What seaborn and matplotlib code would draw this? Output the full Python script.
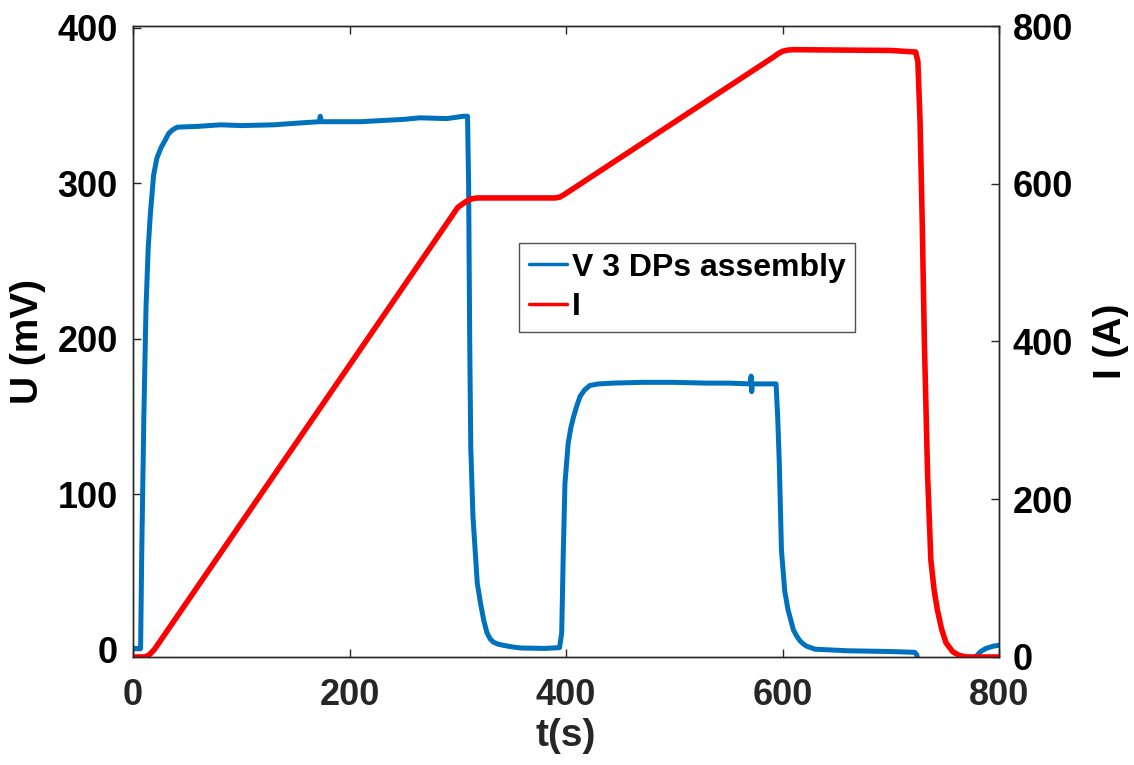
import seaborn as sns
import matplotlib.pyplot as plt
import pandas as pd

# voltage of the 3 DP assembly (t in s, U in mV)
t_v = [0, 5, 7, 8, 10, 12, 14, 16, 19, 22, 26, 30, 33, 37, 41, 60, 81, 100,
       130, 150, 172, 173, 174, 210, 250, 265, 290, 305, 309, 310, 311, 312,
       314, 318, 321, 324, 327, 330, 333, 337, 342, 350, 358, 380, 394, 396,
       397.5, 399, 402, 404.5, 407, 410, 413, 417, 422, 430, 443, 470, 500,
       530, 550, 570, 571, 571.5, 572, 594, 595.5, 597, 599, 602, 605, 610,
       613, 616, 619, 622, 630, 660, 700, 722, 724, 727, 775, 779, 783, 788,
       795, 800]
u_v = [1, 1, 1, 60, 150, 220, 258, 280, 305, 316, 323, 328, 332, 334.5, 336,
       336.5, 337.5, 337, 337.5, 338.5, 339.5, 343, 339.5, 339.5, 341, 342,
       341.5, 343, 343, 300, 200, 130, 86, 43, 30, 19, 11, 7, 5, 3.8, 3, 2,
       1.3, 1, 1.5, 11, 64, 107, 133, 143, 150, 157, 163, 167, 170, 171,
       171.5, 172, 172, 171.5, 171.5, 171, 176, 166, 171, 171, 150, 120, 64,
       38, 26, 13, 9, 6, 4, 2.5, 0.5, -0.5, -1, -1.5, -3, -15, -10, -4, -1,
       1, 2.5, 3]

# magnet current (t in s, I in A)
t_i = [0, 10, 13, 16, 20, 300, 305, 309, 313, 318, 390, 394, 398, 592, 596,
       600, 605, 610, 700, 723, 725, 727, 729, 731, 734, 737, 740, 743, 747,
       751, 757, 763, 770, 800]
i_i = [0, 0, 1, 4, 10, 570, 575, 578.5, 581, 582, 582, 583, 586, 761, 765,
       768, 769.5, 770, 769, 767, 755, 680, 554, 400, 230, 123, 85, 60, 35,
       18, 7, 2, 0, 0]

df_v = pd.DataFrame({'t': t_v, 'U': u_v})
df_i = pd.DataFrame({'t': t_i, 'I': i_i})

sns.set_theme(style='white')
plt.rcParams['font.family'] = ['Liberation Sans', 'DejaVu Sans']
plt.rcParams['font.weight'] = 'bold'
plt.rcParams['axes.labelweight'] = 'bold'
plt.rcParams['text.color'] = 'black'

fig = plt.figure(figsize=(11.34, 7.65), dpi=100)
ax = fig.add_axes([0.1173, 0.1412, 0.7637, 0.8248])
ax2 = ax.twinx()

sns.lineplot(data=df_v, x='t', y='U', ax=ax, color='#0072BD', lw=3.6,
             estimator=None, sort=False, label='V 3 DPs assembly', legend=False)
sns.lineplot(data=df_i, x='t', y='I', ax=ax2, color='#FF0000', lw=4,
             estimator=None, sort=False, label='I', legend=False)

ax.set_xlim(0, 800)
ax.set_ylim(-4.5, 401)
ax2.set_ylim(0, 800)
ax.set_xticks([0, 200, 400, 600, 800])
ax.set_yticks([0, 100, 200, 300, 400])
ax2.set_yticks([0, 200, 400, 600, 800])

for a in (ax, ax2):
    for s in a.spines.values():
        s.set_color('#262626')
        s.set_linewidth(1.0)
ax.tick_params(axis='x', direction='in', length=6, width=1, pad=15,
               labelsize=26, colors='#262626', labelcolor='#262626', top=True, bottom=True)
ax.tick_params(axis='y', direction='in', length=6, width=1, pad=11,
               labelsize=26, left=True, right=False, labelcolor='black')
ax2.tick_params(axis='y', direction='in', length=6, width=1, pad=10,
                labelsize=26, right=True, labelcolor='black')
for lab in ax.get_xticklabels() + ax.get_yticklabels() + ax2.get_yticklabels():
    lab.set_fontweight('bold')

ax.set_xlabel('t(s)', fontsize=28, fontweight='bold', color='#262626', labelpad=4)
ax.set_ylabel('U (mV)', fontsize=28, fontweight='bold', color='black', labelpad=8)
ax2.set_ylabel('I (A)', fontsize=28, fontweight='bold', color='black', labelpad=14)

h1, l1 = ax.get_legend_handles_labels()
h2, l2 = ax2.get_legend_handles_labels()
leg = ax2.legend(h1 + h2, l1 + l2, loc='upper left', bbox_to_anchor=(0.446, 0.656),
                 borderaxespad=0, frameon=True, fancybox=False,
                 edgecolor='#262626', handlelength=1.2, handletextpad=0.15,
                 labelspacing=0.3, borderpad=0.3, prop={'weight': 'bold', 'size': 23})
leg.get_frame().set_linewidth(1.0)
for line in leg.get_lines():
    line.set_linewidth(2.5)
for txt in leg.get_texts():
    txt.set_color('black')

fig.savefig('out.png', dpi=100)
